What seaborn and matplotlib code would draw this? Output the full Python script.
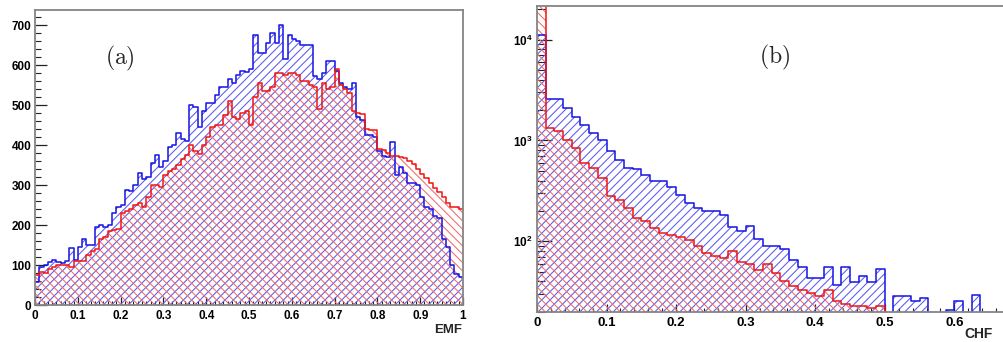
import numpy as np
import matplotlib
matplotlib.use("Agg")
import matplotlib.pyplot as plt
import seaborn as sns
from matplotlib.ticker import MultipleLocator, FixedLocator, FuncFormatter, NullFormatter, LogLocator

# ---------------- data ----------------
# Panel (a): EMF, 100 bins on [0, 1]
emf_edges = np.linspace(0.0, 1.0, 101)
emf_blue = [58, 95, 100, 108, 112, 108, 105, 110, 142, 112,
            145, 165, 150, 150, 195, 200, 195, 200, 230, 245,
            250, 288, 285, 300, 330, 315, 320, 355, 375, 345,
            360, 395, 400, 430, 415, 410, 500, 495, 445, 485,
            505, 505, 525, 545, 545, 565, 555, 575, 585, 583,
            590, 675, 630, 630, 655, 680, 655, 700, 615, 675,
            665, 660, 650, 650, 650, 572, 565, 580, 610, 610,
            585, 555, 545, 540, 555, 470, 462, 425, 425, 420,
            385, 372, 370, 408, 325, 345, 330, 305, 305, 300,
            270, 245, 240, 222, 218, 165, 145, 100, 78, 70]
emf_red = [75, 83, 80, 90, 95, 100, 100, 100, 95, 110,
           110, 110, 125, 135, 140, 165, 170, 185, 188, 190,
           230, 235, 240, 250, 255, 245, 270, 300, 300, 295,
           325, 335, 340, 350, 365, 375, 400, 385, 378, 400,
           420, 445, 450, 450, 475, 510, 470, 465, 480, 485,
           450, 520, 555, 535, 535, 545, 580, 580, 575, 580,
           580, 575, 560, 560, 550, 545, 490, 555, 540, 545,
           590, 550, 540, 529, 485, 480, 478, 440, 438, 437,
           390, 388, 380, 372, 372, 370, 368, 360, 352, 340,
           328, 318, 305, 292, 282, 270, 255, 245, 245, 240]

# Panel (b): CHF, 80 bins on [0, 1]
chf_edges = np.linspace(0.0, 1.0, 81)
chf_blue = [11000, 2570, 2570, 2090, 1700, 1430, 1180, 1000, 780, 645,
            535, 515, 458, 400, 393, 345, 290, 240, 215, 198,
            198, 184, 140, 126, 141, 105, 89, 89, 83, 65,
            56, 43, 43, 56, 37, 56, 39, 45, 39, 53,
            0, 28.5, 28.5, 25.5, 27.5, 0, 0, 21, 25.5, 0,
            29] + [0] * 29
chf_red = [30000, 1330, 1230, 1000, 840, 597, 533, 424, 279, 259,
           214, 170, 158, 135, 121, 115, 110, 104, 90, 77,
           72, 68, 80, 62, 60, 52, 60, 48, 40, 36,
           33, 31, 28.5, 33, 25.5, 23.6, 22.7, 22.7, 21.9, 22.7] + [0] * 40

emf_ticks = [0, 0.1, 0.2, 0.3, 0.4, 0.5, 0.6, 0.7, 0.8, 0.9, 1.0]
emf_yticks = [0, 100, 200, 300, 400, 500, 600, 700]
chf_ticks = [0, 0.1, 0.2, 0.3, 0.4, 0.5, 0.6]
chf_yticks = [100, 1000, 10000]

BLUE = "#1414e6"
RED = "#f01414"
BLUE_HATCH = "#5a5af0"
RED_HATCH = "#f06a6a"

# ---------------- style ----------------
sns.set_style("ticks")
plt.rcParams["font.family"] = ["Liberation Sans", "DejaVu Sans"]
plt.rcParams["hatch.linewidth"] = 0.75
plt.rcParams["mathtext.fontset"] = "custom"
plt.rcParams["mathtext.bf"] = "Liberation Sans:bold"
plt.rcParams["mathtext.rm"] = "Liberation Sans"

W, H = 1004, 342
fig = plt.figure(figsize=(W / 100, H / 100), dpi=100)
fig.patch.set_facecolor("white")

axA = fig.add_axes([35 / W, 37 / H, 428 / W, 295 / H])
axB = fig.add_axes([537 / W, 30.3 / H, 486.9 / W, 306 / H])
axB.set_yscale("log")


def draw_hatch(ax, edges, vals, hcolor, hatch):
    edges = np.asarray(edges, float)
    centers = 0.5 * (edges[:-1] + edges[1:])
    sns.histplot(x=list(centers), weights=list(np.asarray(vals, float)), bins=list(edges),
                 element="step", fill=True, color=hcolor, facecolor="none",
                 edgecolor=hcolor, hatch=hatch, linewidth=0, alpha=1, ax=ax)


def draw_outline(ax, edges, vals, color):
    edges = np.asarray(edges, float)
    centers = 0.5 * (edges[:-1] + edges[1:])
    sns.histplot(x=list(centers), weights=list(np.asarray(vals, float)), bins=list(edges),
                 element="poly" if False else "step", fill=False, color=color,
                 linewidth=1.1, alpha=1, ax=ax)


for ax, edges, blue, red in ((axA, emf_edges, emf_blue, emf_red),
                             (axB, chf_edges, chf_blue, chf_red)):
    draw_hatch(ax, edges, blue, BLUE_HATCH, "////")
    draw_hatch(ax, edges, red, RED_HATCH, "\\\\\\\\")
    draw_outline(ax, edges, blue, BLUE)
    draw_outline(ax, edges, red, RED)

fmt = FuncFormatter(lambda v, p: "%g" % round(v, 3))

# panel (a)
axA.set_xlim(0, 1)
axA.set_ylim(0, 737.5)
axA.xaxis.set_major_locator(FixedLocator(emf_ticks))
axA.xaxis.set_minor_locator(MultipleLocator(0.01))
axA.yaxis.set_major_locator(FixedLocator(emf_yticks))
axA.yaxis.set_minor_locator(MultipleLocator(20))
axA.xaxis.set_major_formatter(fmt)
axA.yaxis.set_major_formatter(fmt)
axA.tick_params(axis="y", which="major", direction="in", length=8.5, width=0.9, pad=2.5, labelsize=8.5)
axA.tick_params(axis="y", which="minor", direction="in", length=4.5, width=0.8)
axA.tick_params(axis="x", which="major", direction="in", length=6, width=0.9, pad=3.5, labelsize=8.5)
axA.tick_params(axis="x", which="minor", direction="in", length=3, width=0.8)

# panel (b)
axB.set_xlim(0, 0.7)
axB.set_ylim(20, 21700)
axB.xaxis.set_major_locator(FixedLocator(chf_ticks))
axB.xaxis.set_minor_locator(MultipleLocator(0.02))
axB.xaxis.set_major_formatter(fmt)
axB.yaxis.set_major_locator(FixedLocator(chf_yticks))
axB.yaxis.set_minor_locator(LogLocator(base=10, subs=np.arange(2, 10)))
axB.yaxis.set_minor_formatter(NullFormatter())
axB.yaxis.set_major_formatter(FuncFormatter(lambda v, p: r"$\mathbf{10^{%d}}$" % round(np.log10(v))))
axB.tick_params(axis="y", which="major", direction="in", length=11, width=0.9, pad=3, labelsize=8.5)
axB.tick_params(axis="y", which="minor", direction="in", length=6, width=0.8)
axB.tick_params(axis="x", which="major", direction="in", length=6, width=0.9, pad=3.5, labelsize=9.5)
axB.tick_params(axis="x", which="minor", direction="in", length=3, width=0.8)

for ax in (axA, axB):
    ax.set_xlabel("")
    ax.set_ylabel("")
    ax.set_facecolor("white")
    for s in ax.spines.values():
        s.set_visible(True)
        s.set_color("#858585")
        s.set_linewidth(1.3)
    ax.tick_params(which="both", top=False, right=False, colors="#222222")
    for lab in ax.get_xticklabels() + ax.get_yticklabels():
        lab.set_fontweight("bold")
        lab.set_color("black")

fig.text(462 / W, 1 - 330 / H, "EMF", ha="right", va="center", fontsize=9.5, fontweight="bold")
fig.text(964 / W, 1 - 334 / H, "CHF", ha="left", va="center", fontsize=10, fontweight="bold")
fig.text(120 / W, 1 - 58 / H, r"$\mathrm{(a)}$", ha="center", va="center", fontsize=17, math_fontfamily="cm")
fig.text(775 / W, 1 - 57 / H, r"$\mathrm{(b)}$", ha="center", va="center", fontsize=17, math_fontfamily="cm")

fig.savefig("out.png", dpi=100, facecolor="white")
